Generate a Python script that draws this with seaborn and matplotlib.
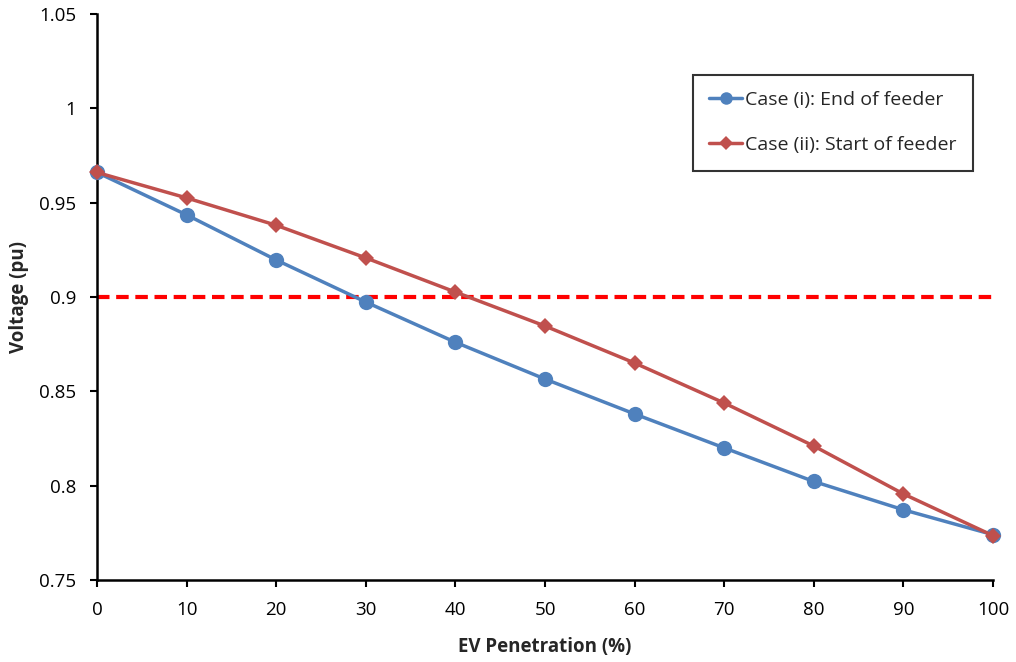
import matplotlib
matplotlib.use("Agg")
import matplotlib.pyplot as plt
import seaborn as sns
import pandas as pd

# EV penetration levels and resulting voltages
penetration = [0, 10, 20, 30, 40, 50, 60, 70, 80, 90, 100]
end_of_feeder = [0.966, 0.9435, 0.9196, 0.8973, 0.876, 0.8565, 0.838, 0.820, 0.8022, 0.7872, 0.774]
start_of_feeder = [0.966, 0.9525, 0.938, 0.9207, 0.9026, 0.8846, 0.865, 0.8438, 0.821, 0.7956, 0.7735]
voltage_limit = 0.9

series_names = ["Case (i): End of feeder", "Case (ii): Start of feeder"]
x_ticks = [0, 10, 20, 30, 40, 50, 60, 70, 80, 90, 100]
y_ticks = [0.75, 0.8, 0.85, 0.9, 0.95, 1.0, 1.05]
y_tick_labels = ["0.75", "0.8", "0.85", "0.9", "0.95", "1", "1.05"]

sns.set_theme(style="white")
plt.rcParams["font.family"] = ["Open Sans", "DejaVu Sans"]

df = pd.DataFrame({
    "pen": penetration * 2,
    "v": end_of_feeder + start_of_feeder,
    "case": [series_names[0]] * len(penetration) + [series_names[1]] * len(penetration),
})

fig = plt.figure(figsize=(10.16, 6.62), dpi=100)
ax = fig.add_axes([0.0955, 0.1239, 0.8819, 0.855])

# 0.9 pu voltage limit
ax.plot([penetration[0], penetration[-1]], [voltage_limit, voltage_limit],
        color="#FF0000", lw=3, ls=(0, (3, 1.6)), zorder=1)

palette = {series_names[0]: "#4F81BD", series_names[1]: "#C0504D"}
sns.lineplot(data=df, x="pen", y="v", hue="case", style="case",
             markers={series_names[0]: "o", series_names[1]: "D"},
             dashes=False, palette=palette, lw=2.5, ax=ax, zorder=3)
for line, ms in zip(ax.lines[1:3], [11, 8]):
    line.set_markersize(ms)
    line.set_markeredgewidth(0)
    line.set_clip_on(False)

ax.set_xlim(0, 100)
ax.set_ylim(0.75, 1.05)
ax.set_xticks(x_ticks)
ax.set_yticks(y_ticks)
ax.set_yticklabels(y_tick_labels)
ax.tick_params(axis="both", which="major", direction="out", length=5, width=1.5,
               labelsize=13.5, colors="black", left=True, bottom=True)
ax.tick_params(axis="x", pad=10)
ax.tick_params(axis="y", pad=10)
ax.set_xlabel("EV Penetration (%)", fontsize=13.5, fontweight="bold", labelpad=13)
ax.set_ylabel("Voltage (pu)", fontsize=13.5, fontweight="bold", labelpad=7)
for side in ["top", "right"]:
    ax.spines[side].set_visible(False)
for side in ["left", "bottom"]:
    ax.spines[side].set_color("black")
    ax.spines[side].set_linewidth(1.8)

handles, labels = ax.get_legend_handles_labels()
leg = ax.legend(handles, labels, loc="upper left", bbox_to_anchor=(0.665, 0.893),
                fontsize=14, frameon=True, fancybox=False, edgecolor="black",
                borderpad=0.85, labelspacing=1.4, handlelength=1.7, handletextpad=0.15,
                borderaxespad=0)
leg.get_frame().set_linewidth(1.5)
for h, ms in zip(leg.legend_handles, [9, 7]):
    h.set_markersize(ms)
    h.set_markeredgewidth(0)

fig.savefig("out.png", dpi=100)
